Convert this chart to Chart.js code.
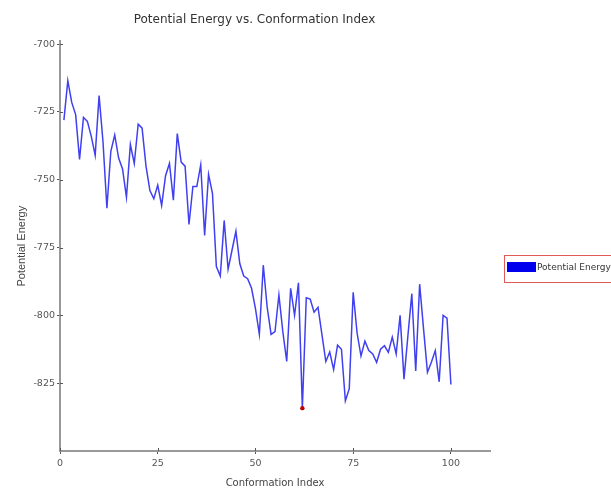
<!DOCTYPE html>
<html>
<head>
<meta charset="utf-8">
<script src="https://cdn.jsdelivr.net/npm/chart.js@4.4.1/dist/chart.umd.min.js"></script>
<style>
  html, body { margin: 0; padding: 0; background: #fff; }
</style>
</head>
<body>
<canvas id="grafico" width="611" height="489"></canvas>
<script>
// Dados (índice de conformação 1..100)
const conformationIndex = Array.from({ length: 100 }, (_, i) => i + 1);
const potentialEnergy = [
  -728, -713.5, -721.5, -726, -742.5, -727, -728.5, -734, -741, -719,
  -736, -760.5, -739.5, -733.5, -742, -746, -756.5, -737, -744, -729.5,
  -731, -745, -754, -757, -752, -759.5, -748.5, -744, -757.5, -733,
  -743.5, -745, -766.5, -752.5, -752.5, -744.5, -770.5, -748, -755, -782,
  -785.5, -765, -783, -776, -769, -781, -785.5, -786.5, -790, -797.5,
  -807, -781.5, -797, -807, -806, -792.5, -806, -817, -790, -800,
  -788, -834.2, -793.5, -794, -798.8, -797, -807, -817, -813.5, -820,
  -811, -812.5, -831.5, -827, -791.5, -806.5, -815, -809.5, -813, -814.2,
  -817.3, -812.5, -811.2, -813.6, -808, -814.2, -800, -823.5, -807.5, -792,
  -820.5, -788.5, -805, -821, -817.3, -813, -824.5, -800, -801, -825.5
];
const xTicks = [0, 25, 50, 75, 100];
const yTicks = [-700, -725, -750, -775, -800, -825];

const minIndex = potentialEnergy.indexOf(Math.min(...potentialEnergy));

// marcas dos ticks também para dentro da área do gráfico
const innerTicks = {
  id: 'innerTicks',
  afterDraw(chart) {
    const { ctx, chartArea, scales } = chart;
    ctx.save();
    ctx.strokeStyle = '#555';
    ctx.lineWidth = 1;
    ctx.beginPath();
    xTicks.forEach(v => {
      const px = Math.round(scales.x.getPixelForValue(v)) + 0.5;
      ctx.moveTo(px, chartArea.bottom);
      ctx.lineTo(px, chartArea.bottom - 3);
    });
    yTicks.forEach(v => {
      const py = Math.round(scales.y.getPixelForValue(v)) + 0.5;
      ctx.moveTo(chartArea.left, py);
      ctx.lineTo(chartArea.left + 3, py);
    });
    ctx.stroke();
    ctx.restore();
  }
};

// legenda com borda vermelha à direita
const legendBox = {
  id: 'legendBox',
  afterDraw(chart) {
    const { ctx, chartArea } = chart;
    const ds = chart.data.datasets[0];
    const x = chartArea.right + 14;
    const y = 255;
    ctx.save();
    ctx.strokeStyle = '#e05a5a';
    ctx.lineWidth = 1;
    ctx.strokeRect(x + 0.5, y + 0.5, 130, 27);
    ctx.fillStyle = '#0000ee';
    ctx.fillRect(x + 3, y + 7, 29, 10);
    ctx.fillStyle = '#333';
    ctx.font = '9px "DejaVu Sans"';
    ctx.textBaseline = 'middle';
    ctx.fillText(ds.label, x + 33, y + 12.5);
    ctx.restore();
  }
};

// título um pouco deslocado para a direita, como no original
const titleShift = {
  id: 'titleShift',
  afterLayout(chart) {
    if (chart.titleBlock) {
      chart.titleBlock.left += 9.5;
      chart.titleBlock.right += 9.5;
    }
  }
};

new Chart(document.getElementById('grafico'), {
  type: 'line',
  data: {
    datasets: [{
      label: 'Potential Energy',
      data: conformationIndex.map((c, i) => ({ x: c, y: potentialEnergy[i] })),
      borderColor: '#4040f0',
      borderWidth: 1.5,
      tension: 0,
      fill: false,
      pointRadius: ctx => ctx.dataIndex === minIndex ? 2.2 : 0,
      pointBackgroundColor: '#c00000',
      pointBorderColor: '#c00000',
      pointBorderWidth: 0
    }]
  },
  options: {
    responsive: false,
    animation: false,
    layout: { padding: { left: 0, right: 121, top: 0, bottom: 0 } },
    plugins: {
      legend: { display: false },
      tooltip: { enabled: false },
      title: {
        display: true,
        text: 'Potential Energy vs. Conformation Index',
        color: '#333',
        font: { family: 'DejaVu Sans', size: 12, weight: 'normal' },
        padding: { top: 13, bottom: 14 }
      }
    },
    scales: {
      x: {
        type: 'linear',
        min: 0,
        max: 110,
        afterBuildTicks: s => { s.ticks = xTicks.map(v => ({ value: v })); },
        afterFit: s => { s.height = 38; },
        grid: { drawOnChartArea: false, drawTicks: true, tickLength: 3, color: '#555' },
        border: { color: '#999', width: 2 },
        ticks: {
          color: '#555',
          font: { family: 'DejaVu Sans', size: 9.5 },
          padding: 4,
          maxRotation: 0
        },
        title: {
          display: true,
          text: 'Conformation Index',
          color: '#444',
          font: { family: 'DejaVu Sans', size: 10 },
          padding: { top: 0, bottom: 0 }
        }
      },
      y: {
        type: 'linear',
        min: -850,
        max: -699,
        afterBuildTicks: s => { s.ticks = yTicks.map(v => ({ value: v })); },
        afterFit: s => { s.width = 60; },
        grid: { drawOnChartArea: false, drawTicks: true, tickLength: 3, color: '#555' },
        border: { color: '#999', width: 2 },
        ticks: {
          color: '#555',
          font: { family: 'DejaVu Sans', size: 9.5 },
          padding: 2
        },
        title: {
          display: true,
          text: 'Potential Energy',
          color: '#444',
          font: { family: 'Liberation Sans', size: 11 },
          padding: { top: 15.5, bottom: 0 }
        }
      }
    }
  },
  plugins: [innerTicks, legendBox, titleShift]
});
</script>
</body>
</html>
